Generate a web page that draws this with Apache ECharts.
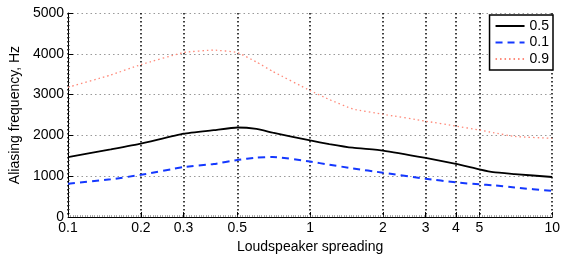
<!DOCTYPE html>
<html>
<head>
<meta charset="utf-8">
<script src="https://cdn.jsdelivr.net/npm/echarts@6/dist/echarts.min.js"></script>
<style>html,body{margin:0;padding:0;background:#fff}#c{width:563px;height:259px}</style>
</head>
<body>
<div id="c"></div>
<script>
// Loudspeaker spreading (x, log scale)
const spreading = [0.1, 0.15, 0.2, 0.3, 0.4, 0.5, 0.6, 0.7, 1, 1.2, 1.5, 2, 3, 4, 5, 5.7, 7, 10];
// Aliasing frequency, Hz
const s05 = [1470, 1660, 1800, 2045, 2130, 2195, 2160, 2070, 1877, 1790, 1700, 1630, 1450, 1305, 1170, 1100, 1055, 982];
const s01 = [817, 925, 1035, 1225, 1300, 1400, 1455, 1475, 1360, 1284, 1193, 1087, 940, 850, 802, 780, 725, 640];
const s09 = [3180, 3480, 3735, 4030, 4090, 4030, 3800, 3570, 3100, 2880, 2650, 2520, 2350, 2230, 2135, 2070, 1976, 1930];
const seriesNames = ['0.5', '0.1', '0.9'];
const xTicks = [0.1, 0.2, 0.3, 0.5, 1, 2, 3, 4, 5, 10];
const xTickLabels = ['0.1', '0.2', '0.3', '0.5', '1', '2', '3', '4', '5', '10'];
const yTicks = [0, 1000, 2000, 3000, 4000, 5000];

const FONT = "'Liberation Sans', Arial, Helvetica, sans-serif";
const lg = v => Math.log10(v);
const xTickPos = xTicks.map(lg);
const pts = arr => spreading.map((x, i) => [lg(x), arr[i]]);

const chart = echarts.init(document.getElementById('c'), null, {renderer: 'canvas'});
chart.setOption({
  animation: false,
  backgroundColor: '#fff',
  textStyle: {fontFamily: FONT},
  grid: {left: 67, right: 8, top: 13, bottom: 36, containLabel: false},
  legend: {
    orient: 'vertical', right: 10, top: 15,
    itemWidth: 29, itemHeight: 14, itemGap: 2.5,
    padding: [4, 4, 4, 5],
    borderColor: '#000', borderWidth: 1.5, backgroundColor: '#fff',
    itemStyle: {opacity: 0},
    textStyle: {fontSize: 14, color: '#000', fontFamily: FONT},
    data: seriesNames
  },
  xAxis: [{
    type: 'value', min: -1, max: 1,
    name: 'Loudspeaker spreading', nameLocation: 'middle', nameGap: 17,
    nameTextStyle: {fontSize: 14, color: '#000', fontFamily: FONT},
    axisLine: {show: true, onZero: false, lineStyle: {color: '#000', width: 1}},
    axisTick: {show: true, inside: true, length: 5, customValues: xTickPos, lineStyle: {color: '#000'}},
    axisLabel: {
      customValues: xTickPos, margin: 4, fontSize: 14, color: '#000', fontFamily: FONT,
      formatter: v => {
        let best = 0;
        xTickPos.forEach((p, i) => { if (Math.abs(p - v) < Math.abs(xTickPos[best] - v)) best = i; });
        return xTickLabels[best];
      }
    },
    splitLine: {show: true, lineStyle: {color: '#000', width: 1.5, type: [1.5, 2.5]}}
  }, {
    type: 'value', min: -1, max: 1, interval: 0.01, position: 'bottom',
    axisLine: {show: false, onZero: false},
    axisTick: {show: true, inside: true, length: 2, lineStyle: {color: '#666', width: 0.6}},
    axisLabel: {show: false},
    splitLine: {show: false}
  }],
  yAxis: {
    type: 'value', min: yTicks[0], max: yTicks[yTicks.length - 1], interval: 1000,
    name: 'Aliasing frequency, Hz', nameLocation: 'middle', nameGap: 40, nameRotate: 90,
    nameTextStyle: {fontSize: 14, color: '#000', fontFamily: FONT},
    axisLine: {show: true, onZero: false, lineStyle: {color: '#000', width: 1}},
    axisTick: {show: true, inside: true, length: 5, lineStyle: {color: '#000'}},
    minorTick: {show: true, splitNumber: 10, length: 2, lineStyle: {color: '#444', width: 0.6}},
    axisLabel: {margin: 4, fontSize: 14, color: '#000', fontFamily: FONT, formatter: v => String(v)},
    splitLine: {show: true, lineStyle: {color: '#999', width: 1, type: [1.5, 3]}}
  },
  series: [
    {name: seriesNames[0], type: 'line', data: pts(s05), symbol: 'none', smooth: 0.15,
     lineStyle: {color: '#000', width: 1.8, type: 'solid'}, itemStyle: {color: '#000'}},
    {name: seriesNames[1], type: 'line', data: pts(s01), symbol: 'none', smooth: 0.15,
     lineStyle: {color: '#1438ff', width: 2, type: [7, 5]}, itemStyle: {color: '#1438ff'}},
    {name: seriesNames[2], type: 'line', data: pts(s09), symbol: 'none', smooth: 0.15,
     lineStyle: {color: '#ff8a7a', width: 1.3, type: [1.5, 3]}, itemStyle: {color: '#ff8a7a'}}
  ]
});
</script>
</body>
</html>
